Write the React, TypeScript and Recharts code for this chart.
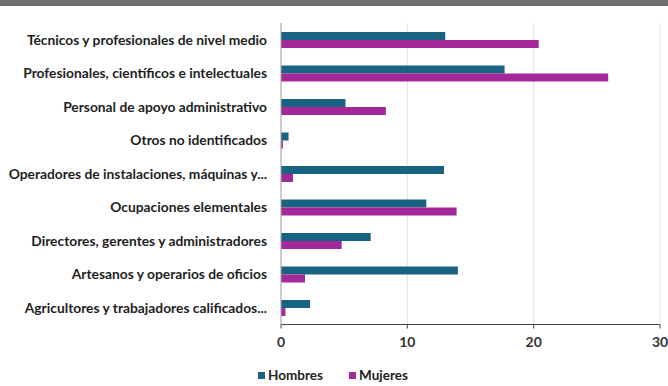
import {
  BarChart, Bar, XAxis, YAxis, CartesianGrid, Legend,
} from 'recharts'

const categories = [
  'Técnicos y profesionales de nivel medio',
  'Profesionales, científicos e intelectuales',
  'Personal de apoyo administrativo',
  'Otros no identificados',
  'Operadores de instalaciones, máquinas y...',
  'Ocupaciones elementales',
  'Directores, gerentes y administradores',
  'Artesanos y operarios de oficios',
  'Agricultores y trabajadores calificados...',
]
const hombres = [13.0, 17.7, 5.1, 0.6, 12.9, 11.5, 7.1, 14.0, 2.3]
const mujeres = [20.4, 25.9, 8.3, 0.15, 0.95, 13.9, 4.8, 1.9, 0.35]
const xTicks = [0, 10, 20, 30]

const BLUE = '#1a6282'
const MAGENTA = '#a3299a'
const FONT = 'Lato, "Open Sans", sans-serif'

const data = categories.map((name, i) => ({
  name,
  Hombres: hombres[i],
  Mujeres: mujeres[i],
}))

const LegendContent = () => (
  <div style={{ display: 'flex', justifyContent: 'center', gap: 26, fontFamily: FONT, fontWeight: 700, fontSize: 13.5, color: '#222', paddingLeft: 6 }}>
    {[['Hombres', BLUE], ['Mujeres', MAGENTA]].map(([label, color]) => (
      <span key={label} style={{ display: 'flex', alignItems: 'center', gap: 3 }}>
        <span style={{ width: 7, height: 7, background: color, display: 'inline-block' }} />
        {label}
      </span>
    ))}
  </div>
)

export default function App() {
  return (
    <div style={{ position: 'absolute', left: 0, top: 0, width: 668, height: 386, background: '#fff' }}>
      <div style={{ position: 'absolute', left: 0, top: 0, width: 668, height: 6, background: '#707070' }} />
      <BarChart
        width={668}
        height={386}
        data={data}
        layout="vertical"
        margin={{ top: 23, right: 8, left: 0, bottom: 0 }}
        barSize={8}
        barGap={0}
      >
        <CartesianGrid horizontal={false} stroke="#e2e2e2" />
        <XAxis
          type="number"
          domain={[0, 30]}
          ticks={xTicks}
          height={30}
          tick={{ fontSize: 14, fontWeight: 700, fill: '#333', fontFamily: FONT }}
          axisLine={{ stroke: '#444' }}
          tickLine={{ stroke: '#444' }}
          tickSize={4}
          tickMargin={9}
        />
        <YAxis
          type="category"
          dataKey="name"
          width={281}
          interval={0}
          tick={{ fontSize: 13.8, fontWeight: 700, fill: '#1e1e1e', fontFamily: FONT }}
          axisLine={{ stroke: '#a8a8a8' }}
          tickLine={false}
          tickSize={0}
          tickMargin={14}
        />
        <Legend
          verticalAlign="bottom"
          content={<LegendContent />}
          wrapperStyle={{ paddingTop: 12.5, paddingBottom: 3 }}
        />
        <Bar dataKey="Hombres" fill={BLUE} isAnimationActive={false} />
        <Bar dataKey="Mujeres" fill={MAGENTA} isAnimationActive={false} />
      </BarChart>
    </div>
  )
}
